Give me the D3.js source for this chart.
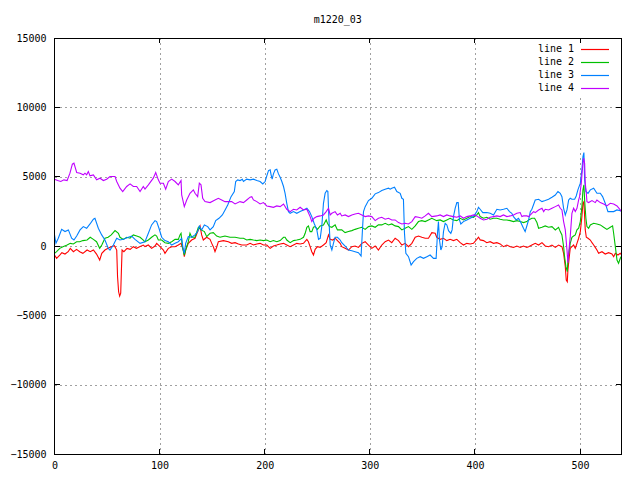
<!DOCTYPE html>
<html lang="en">
<head>
  <meta charset="UTF-8" />
  <title>m1220_03</title>
  <script src="https://d3js.org/d3.v7.min.js"></script>
  <style>
    body { margin: 0; background: #fff; }
    svg text { font-family: "DejaVu Sans Mono", "Liberation Mono", monospace; font-size: 10px; fill: #000; }
  </style>
</head>
<body>
  <svg width="640" height="480"></svg>

  <script>
    // chart values as [x, value]
    const title = "m1220_03";
    const seriesNames = ["line 1", "line 2", "line 3", "line 4"];
    const xTicks = [0, 100, 200, 300, 400, 500];
    const yTicks = [-15000, -10000, -5000, 0, 5000, 10000, 15000];

    const line1 = [
      [0,-650],[2,-890],[5,-650],[7,-480],[10,-580],[13,-410],[15,-170],[18,-410],[21,-240],[24,-410],
      [27,-530],[31,-290],[34,-410],[37,-290],[40,-580],[43,-1010],[45,-530],[48,-290],[51,-170],[54,-50],
      [57,25],[59.2,-290],[60,-2220],[61,-3300],[62,-3610],[63,-3400],[63.6,-1900],[64.3,-290],[66,-410],[69,-170],
      [72,-240],[75,-50],[78,-170],[81,-50],[84.5,70],[86.1,-40],[89.3,70],[92.4,-170],[95.6,0],[97.2,190],
      [100.4,-50],[103.6,-290],[105.1,-530],[108.3,-170],[111.5,-50],[114.7,-50],[117.8,70],[120.4,190],[122.6,-290],[123.5,-770],
      [124.8,-290],[127.3,190],[130.5,430],[133.7,560],[136.9,1160],[138.5,1450],[140,800],[141.6,430],[144.8,630],[148,480],
      [149.6,190],[151.1,-50],[152.7,-400],[154.3,-90],[155.9,310],[160.7,390],[165.4,310],[168.6,190],[171.8,240],[175,150],
      [178.1,70],[179.8,70],[182.9,70],[186.1,190],[189.3,70],[192.5,150],[195.6,190],[198.8,70],[202,70],[205.2,-170],
      [208.3,0],[211.5,70],[214.7,150],[217.9,190],[221,70],[224.2,-50],[227.4,70],[230.5,190],[233.7,150],[236.9,190],
      [240.1,480],[241.6,310],[243.2,-50],[244.8,-410],[246.4,-650],[248,-240],[250.2,-50],[252.8,-100],[255.9,70],[258.5,240],
      [260.7,800],[262.3,480],[264.8,430],[267,560],[269.2,390],[271.8,190],[273.3,-50],[276.5,-170],[279.7,-290],[282.9,-50],
      [286,0],[289.2,-100],[292.4,190],[295.6,310],[298.7,70],[301.9,-170],[305.1,0],[308.2,-290],[311.4,70],[314.6,310],
      [317.8,430],[320.9,240],[324.1,560],[327.3,390],[330.5,70],[333.6,190],[336.8,-50],[340,190],[343.2,630],[346.3,720],
      [349.5,630],[352.7,560],[355.8,560],[359,965],[362.2,915],[363.7,630],[366.9,480],[370.1,560],[373.3,390],[376.4,480],
      [379.6,390],[382.8,480],[386,240],[389.1,70],[392.3,190],[395.5,150],[398.6,190],[401.8,480],[403.4,630],[405,440],
      [408.2,390],[411.3,240],[414.5,310],[417.7,190],[420.9,240],[424,150],[427.2,-50],[430.4,70],[433.6,-50],[436.7,-100],
      [439.9,0],[443.1,-100],[446.2,0],[449.4,-100],[451.1,-50],[454.2,70],[457.4,190],[460.6,70],[463.8,240],[466.9,0],
      [470.1,-50],[473.3,70],[476.5,-100],[479.6,70],[482.8,-50],[484.4,-530],[486,-1490],[486.9,-2460],[487.9,-2580],[488.5,-1730],
      [489.8,-770],[490.7,-170],[492.3,-50],[493.9,70],[495.5,-170],[497.1,190],[498.7,560],[500.3,1040],[501.8,2120],[502.8,3080],
      [503.7,3200],[504.4,2120],[505,1160],[506,630],[507.6,560],[509.8,430],[511.4,240],[513,70],[514.5,-100],[516.1,-290],
      [517.7,-530],[520.9,-410],[524,-580],[527.2,-480],[530.4,-580],[532,-770],[533.6,-530],[536.1,-650],[538.3,-530],[539.6,-650]
    ];

    const line2 = [
      [0,-530],[2,-410],[5,-170],[8,-50],[12,70],[15,190],[18,150],[21,310],[24,310],[27,390],
      [31,430],[34,630],[37,480],[40,310],[43,-170],[45,70],[48,560],[51,630],[54,800],[57.6,1110],
      [60.8,920],[62.3,630],[65.5,480],[68.7,630],[71.9,560],[75,800],[78.2,720],[81.4,630],[84.5,430],[86,300],
      [89.3,430],[92.4,630],[95.6,800],[97.2,720],[98.8,430],[102,430],[105.1,240],[108.3,190],[111.5,310],[114.7,480],
      [117.8,480],[119.4,800],[120.4,915],[121.6,-50],[123.5,-650],[124.8,-290],[127.3,310],[128.9,915],[130.5,630],[133.7,630],
      [136.9,1350],[139.4,1160],[142.6,1040],[144.8,675],[148,915],[151.1,965],[154.3,720],[157.5,630],[162.2,720],[167,630],
      [171.8,630],[176.5,560],[179.8,555],[182.9,430],[186.1,480],[189.3,430],[192.5,390],[195.6,430],[198.8,390],[202,430],
      [205.2,310],[208.3,390],[211.5,310],[214.7,390],[217.9,630],[219.4,630],[221,430],[224.2,240],[227.4,390],[230.5,430],
      [233.7,480],[236.9,630],[238.5,915],[240.1,1350],[241.6,1450],[243.2,1040],[244.8,1040],[246.4,1350],[248,1400],[250.2,1200],
      [252.8,1450],[255.9,1520],[258.5,1880],[259.7,1640],[261.6,1400],[263.9,1350],[267,1520],[269.2,1160],[271.8,1160],[273.3,1160],
      [276.5,965],[279.7,1040],[282.9,1110],[286,1200],[289.2,1280],[292.4,1350],[295.6,1200],[298.7,1400],[301.9,1450],[305.1,1350],
      [308.2,1520],[311.4,1520],[314.6,1640],[317.8,1520],[320.9,1590],[324.1,1450],[327.3,1400],[330.5,1160],[333.6,1280],[336.8,1400],
      [340,1200],[343.2,1450],[346.3,1760],[349.5,1830],[352.7,1760],[355.8,1880],[359,2000],[363.7,1830],[366.9,1880],[370.1,1760],
      [373.3,1880],[376.4,2000],[379.6,1880],[382.8,1830],[386,2000],[389.1,1880],[392.3,2000],[395.5,2120],[398.6,2070],[401.8,2240],
      [403.4,2410],[405,2120],[408.2,2000],[411.3,2070],[414.5,1930],[417.7,2000],[420.9,2000],[424,1930],[427.2,1880],[430.4,1880],
      [433.6,1830],[436.7,1760],[439.9,1830],[443.1,1760],[446.2,1690],[449.4,1760],[451.1,1880],[454.2,2000],[456.8,2000],[459,1690],
      [460.6,1280],[463.8,1350],[466.9,1450],[470.1,1350],[473.3,1400],[476.5,1160],[479.6,1350],[481.2,1040],[482.8,800],[484.4,-50],
      [485.3,-770],[486.6,-1490],[487.9,-1850],[488.5,-1010],[489.8,-290],[490.7,190],[492.3,630],[493.9,720],[495.5,800],[497.1,1160],
      [498.7,1280],[500.3,1760],[501.8,2840],[502.8,4050],[503.7,4410],[504.4,3320],[505.6,2000],[506.6,1400],[508.2,1280],[509.8,1520],
      [513,1640],[516.1,1590],[519.3,1520],[522.5,1350],[525.6,1200],[528.8,1350],[531,1450],[532,920],[533.6,-50],[535.2,-1010],
      [536.7,-1250],[538.3,-890],[539.6,-720]
    ];

    const line3 = [
      [0,800],[1.4,200],[3.6,560],[6.8,1200],[10,1040],[13.2,1160],[16.3,560],[18.5,435],[21.1,720],[24.3,1160],
      [27.4,1400],[30.6,1280],[33.8,1590],[37,1930],[38.5,2000],[41.7,1280],[44.9,800],[48,435],[51.2,-170],[52.8,-290],
      [56,70],[59.2,560],[62.3,435],[65.5,480],[70.3,630],[73.4,720],[76.6,480],[81.4,190],[86,300],[89.3,920],
      [92.4,1520],[95.6,1830],[97.2,1760],[99.4,1280],[102,630],[105.1,390],[108.3,310],[111.5,70],[114.7,190],[117.8,310],
      [121,555],[122.6,-290],[123.5,-530],[124.8,190],[127.3,675],[130.5,630],[133.7,800],[136.2,1040],[137.8,1440],[140,1160],
      [142.6,1520],[145.8,1400],[148,1160],[151.1,1400],[153.4,1830],[156.5,2000],[159.7,2240],[162.3,2600],[164.8,2960],[168,3560],
      [171.1,3930],[172.4,4650],[174.3,4770],[176.5,4720],[178.7,4820],[179.8,4650],[182.9,4820],[186.1,4770],[189.3,4820],[192.5,4720],
      [195.6,4650],[198.2,4480],[200.4,4650],[202,5060],[203.6,5440],[205.2,5490],[206.1,5130],[207.1,4820],[208.3,5200],[209.9,5490],
      [211.5,5540],[213.1,5200],[214.7,4960],[216.3,4650],[217.9,4290],[219.4,3800],[221,3080],[222.6,2480],[224.2,2360],[227.4,2480],
      [230.5,2360],[233.7,2480],[236.9,2600],[240.1,2720],[242.6,2480],[244.8,2120],[247,1640],[249.6,1160],[251.2,480],[252.8,555],
      [254.3,1400],[255.9,3080],[257.5,3800],[259.1,4000],[260.1,3930],[261,2120],[262.3,70],[263.9,-290],[265.4,190],[267,630],
      [269.2,630],[271.8,435],[273.3,240],[276.5,0],[279.7,-290],[282.9,-340],[286,-410],[289.2,-480],[291.7,-720],[293,1160],
      [294,2480],[295.6,2840],[298.7,3275],[301.9,3440],[305.1,3760],[308.2,3850],[311.4,4000],[314.6,4100],[317.8,4170],[319.4,4100],
      [320.9,4170],[323.5,4240],[325.7,3930],[328.9,3800],[330.5,3440],[332,3370],[333,920],[334.3,-530],[336.8,-770],[339.3,-1370],
      [341.6,-1130],[344.7,-890],[347.9,-770],[351.1,-890],[354.3,-770],[357.4,-650],[360.6,-890],[363.1,-890],[364.4,915],[365.3,1760],
      [366.3,430],[367.6,-290],[368.8,-50],[370.1,1040],[371.7,1640],[373.3,1520],[374.9,1110],[377.1,915],[378.3,1160],[379.6,2120],
      [381.2,2720],[382.8,3130],[384.1,3130],[385.3,1880],[386.6,1590],[389.1,1760],[392.3,1880],[395.5,2000],[398.6,2120],[401.8,2480],
      [403.4,2790],[405,2650],[407.5,2410],[411.3,2410],[414.5,2360],[417.7,2240],[420.9,2650],[424,2600],[427.2,2650],[430.4,2720],
      [432.9,2480],[435.1,2360],[436.7,2120],[439.3,1880],[441.5,2000],[443.7,1690],[446.2,1280],[447.8,1040],[449.4,1440],[451.1,1880],
      [452.7,2480],[454.2,2650],[457.4,3320],[460.6,3370],[463.8,3200],[466.9,3275],[470.1,3370],[473.3,3520],[476.5,3680],[479,3930],
      [481.2,3800],[482.8,3560],[484.4,2720],[486,2240],[487.6,2600],[489.2,3320],[490.7,3440],[492.3,3370],[494.9,3370],[496.4,3610],
      [498,4050],[500.3,4530],[501.8,5490],[502.8,6450],[503.7,6740],[504.4,4770],[505.6,3930],[507.6,3800],[509.8,4050],[513,4170],
      [516.1,3800],[519.3,3800],[521.5,3560],[524,3080],[526.6,2480],[529.8,2480],[532,2480],[535.2,2600],[538.3,2550],[539.6,2480]
    ];

    const line4 = [
      [0,4820],[3,4720],[6,4650],[9,4770],[12,4720],[14.7,5250],[17,5900],[18.5,5970],[21.1,5300],[24.3,5250],
      [27.4,5130],[29,5250],[30.6,5130],[32.2,5370],[33.8,5060],[37,5130],[40.1,4770],[43.3,4890],[46.5,4720],[49.6,4820],
      [52.8,5010],[57.6,5010],[59.2,4650],[62.3,4170],[64.9,3920],[68.7,4290],[71.9,4480],[75,4290],[78.2,4290],[81.4,3930],
      [84.5,4290],[86.1,4100],[89.3,4410],[94,4890],[96.3,5300],[98.8,4770],[100.4,4530],[103.6,4530],[105.8,4100],[108.3,4650],
      [111.5,4820],[114.7,4650],[117.8,4410],[120.4,4720],[121,3680],[123.5,2840],[125.8,3320],[128.9,3800],[132.1,4050],[133.7,3800],
      [136.2,3560],[137.8,4530],[139.4,4410],[141,3440],[143.2,3200],[148,3130],[152.7,3320],[155.9,3440],[159.1,3320],[162.2,3200],
      [165.4,3200],[168.6,3200],[171.8,3030],[176.5,3200],[179.8,3130],[182.9,3320],[186.1,3520],[187.7,3560],[189.3,3320],[192.5,3200],
      [195.6,3030],[198.8,3130],[202,2890],[205.2,2840],[208.3,2790],[211.5,2890],[214.7,2840],[217.9,3030],[221,2650],[224.2,2480],
      [227.4,2650],[230.5,2600],[233.7,2790],[236.9,2600],[240.1,2650],[243.2,2120],[244.8,1760],[247,2000],[249.6,2120],[252.8,2170],
      [255.9,2240],[258.5,2480],[260.7,2720],[262.3,2240],[263.9,2360],[267,2480],[269.2,2240],[271.8,2360],[273.3,2170],[276.5,2240],
      [279.7,2120],[282.9,2240],[286,2310],[289.2,2360],[292.4,2240],[295.6,2120],[298.7,2170],[301.9,2120],[305.1,1830],[308.2,2000],
      [311.4,2070],[314.6,1930],[317.8,2000],[320.9,1880],[324.1,1880],[327.3,1690],[330.5,1590],[333.6,1640],[336.8,1590],[340,1760],
      [343.2,2120],[346.3,2070],[349.5,2000],[352.7,2170],[355.8,2360],[359,2120],[363.7,2170],[366.9,2240],[370.1,2120],[373.3,2240],
      [376.4,2170],[379.6,2120],[382.8,2070],[386,2170],[389.1,2000],[392.3,2120],[395.5,2170],[398.6,2240],[401.8,2170],[405,2000],
      [408.2,1880],[411.3,1930],[414.5,2070],[417.7,2120],[420.9,2170],[424,2120],[427.2,2240],[430.4,2120],[433.6,2170],[436.7,2240],
      [439.9,2360],[443.1,2410],[444.7,2120],[446.2,2170],[449.4,2170],[451.1,2120],[454.2,2360],[455.8,2480],[457.4,2410],[460.6,2600],
      [463.8,2720],[465.4,2480],[466.9,2650],[470.1,2600],[473.3,2720],[476.5,2840],[479.6,2960],[481.2,2720],[482.8,2600],[484.4,1760],
      [486,1160],[487.6,-290],[488.5,-1200],[489.2,-530],[490.7,675],[492.3,2360],[493.9,2720],[495.5,2480],[497.1,2720],[498.7,3320],
      [499.6,3560],[501.2,4530],[502.5,5730],[503.4,6330],[504.4,5970],[505,4530],[506,3800],[506.6,3200],[508.2,3130],[511.4,3275],
      [514.5,3130],[516.1,3320],[519.3,3130],[522.5,3030],[525.6,2890],[528.8,3080],[532,3030],[535.2,2890],[538.3,2600],[539.6,2480]
    ];

    const colors = ["#ff0000", "#00c000", "#0080ff", "#c000ff"];

    const plotLeft = 54.5, plotRight = 621, plotTop = 38, plotBottom = 454;

    const svg = d3.select("svg");

    const x = d3.scaleLinear().domain([0, 539]).range([plotLeft, plotRight]);
    const y = d3.scaleLinear().domain([-15000, 15000]).range([plotBottom, plotTop]);

    // title
    svg.append("text")
      .attr("x", (plotLeft + plotRight) / 2)
      .attr("y", 23)
      .attr("text-anchor", "middle")
      .text(title);

    // grid lines
    const grid = svg.append("g")
      .attr("stroke", "#a0a0a0")
      .attr("stroke-dasharray", "2,3")
      .attr("shape-rendering", "crispEdges");

    grid.selectAll(".gx")
      .data(xTicks.filter(d => d > 0))
      .enter().append("line")
      .attr("x1", d => Math.round(x(d)) + 0.5)
      .attr("x2", d => Math.round(x(d)) + 0.5)
      .attr("y1", plotTop)
      .attr("y2", plotBottom);

    grid.selectAll(".gy")
      .data(yTicks.filter(d => d > -15000 && d < 15000))
      .enter().append("line")
      .attr("x1", plotLeft)
      .attr("x2", plotRight)
      .attr("y1", d => Math.round(y(d)) + 0.5)
      .attr("y2", d => Math.round(y(d)) + 0.5);

    // key area blanks out the grid behind it
    svg.append("rect")
      .attr("x", 532).attr("y", 42)
      .attr("width", 85).attr("height", 54)
      .attr("fill", "#fff");

    // axes, ticks inside on all four sides
    const fmt = d3.format("d");
    const axisBottom = d3.axisBottom(x).tickValues(xTicks).tickFormat(fmt).tickSize(0).tickPadding(8);
    const axisLeft = d3.axisLeft(y).tickValues(yTicks).tickFormat(fmt).tickSize(0).tickPadding(8);

    svg.append("g")
      .attr("transform", `translate(0,${plotBottom})`)
      .call(axisBottom)
      .call(g => g.select(".domain").remove())
      .call(g => g.selectAll("text").attr("font-family", null).attr("font-size", null));

    svg.append("g")
      .attr("transform", `translate(${plotLeft},0)`)
      .call(axisLeft)
      .call(g => g.select(".domain").remove())
      .call(g => g.selectAll("text").attr("font-family", null).attr("font-size", null));

    const tl = 5;
    const ticks = svg.append("g").attr("stroke", "#000").attr("shape-rendering", "crispEdges");
    xTicks.forEach(d => {
      ticks.append("line").attr("x1", x(d)).attr("x2", x(d)).attr("y1", plotBottom).attr("y2", plotBottom - tl);
      ticks.append("line").attr("x1", x(d)).attr("x2", x(d)).attr("y1", plotTop).attr("y2", plotTop + tl);
    });
    yTicks.forEach(d => {
      ticks.append("line").attr("x1", plotLeft).attr("x2", plotLeft + tl).attr("y1", y(d)).attr("y2", y(d));
      ticks.append("line").attr("x1", plotRight).attr("x2", plotRight - tl).attr("y1", y(d)).attr("y2", y(d));
    });

    // data lines
    svg.append("clipPath").attr("id", "clip")
      .append("rect").attr("x", plotLeft).attr("y", plotTop)
      .attr("width", plotRight - plotLeft).attr("height", plotBottom - plotTop);

    const line = d3.line().x(d => x(d[0])).y(d => y(d[1]));
    const plot = svg.append("g").attr("clip-path", "url(#clip)");
    [line1, line2, line3, line4].forEach((s, i) => {
      plot.append("path")
        .datum(s)
        .attr("fill", "none")
        .attr("stroke", colors[i])
        .attr("stroke-width", 1.1)
        .attr("d", line);
    });

    // key
    const key = svg.append("g");
    seriesNames.forEach((name, i) => {
      const ky = 48.5 + i * 13;
      key.append("text")
        .attr("x", 574).attr("y", ky)
        .attr("dy", "0.35em")
        .attr("text-anchor", "end")
        .text(name);
      key.append("line")
        .attr("x1", 581).attr("x2", 609)
        .attr("y1", Math.round(ky) + 0.5).attr("y2", Math.round(ky) + 0.5)
        .attr("stroke", colors[i])
        .attr("stroke-width", 1.2);
    });

    // border
    svg.append("rect")
      .attr("x", plotLeft).attr("y", plotTop)
      .attr("width", plotRight - plotLeft).attr("height", plotBottom - plotTop)
      .attr("fill", "none")
      .attr("stroke", "#000")
      .attr("shape-rendering", "crispEdges");
  </script>
</body>
</html>
